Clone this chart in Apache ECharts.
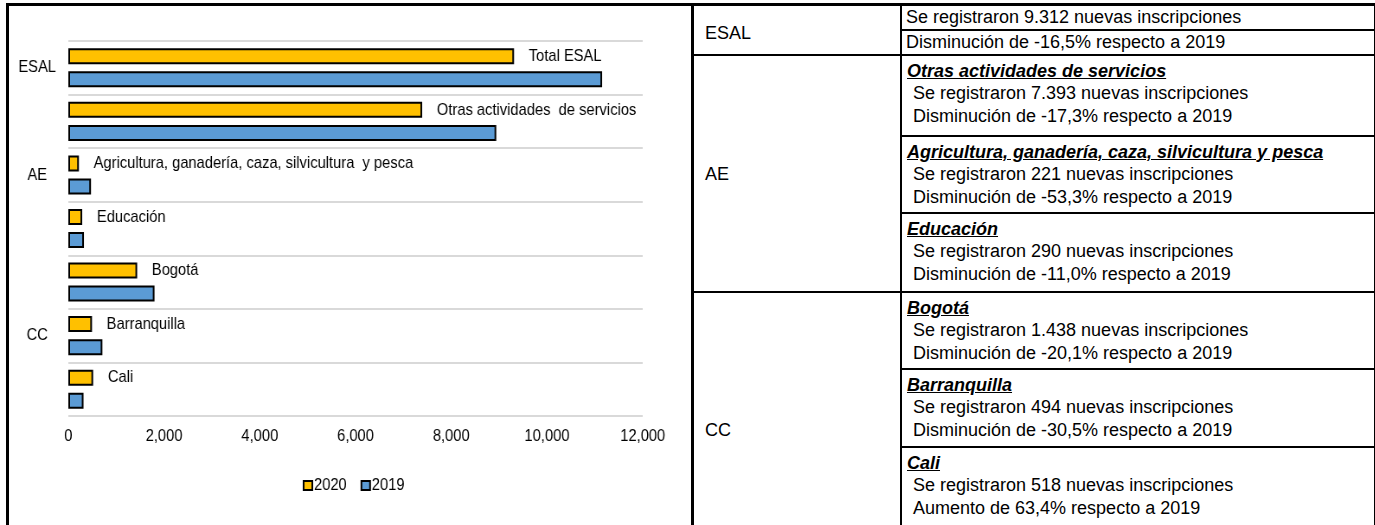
<!DOCTYPE html>
<html>
<head>
<meta charset="utf-8">
<script src="https://cdn.jsdelivr.net/npm/echarts@6/dist/echarts.min.js"></script>
<style>
html, body { margin:0; padding:0; background:#fff; width:1375px; height:525px; overflow:hidden;
  font-family:'Liberation Sans',Arial,sans-serif; color:#000; }
/* the chart in the picture is squeezed horizontally, so draw it wider and scale it back */
#chart { position:absolute; left:0; top:0; width:802px; height:525px; transform:scaleX(0.865); transform-origin:0 0; }
#box { position:absolute; left:6px; top:3px; width:682px; height:600px; border:3px solid #000; border-bottom:none; pointer-events:none; }
#table { position:absolute; left:692px; top:3px; width:680px; height:600px; border:2px solid #000; border-top:3px solid #000; border-bottom:none; background:#fff; }
.hl { position:absolute; height:2px; background:#000; }
.vl { position:absolute; width:2px; background:#000; }
.cell { position:absolute; font-size:18px; line-height:22.6px; white-space:pre; }
.head { font-weight:bold; font-style:italic; text-decoration:underline; }
.body { padding-left:6px; }
</style>
</head>
<body>
<div id="chart"></div>
<div id="box"></div>
<div id="table"></div>
<script>
// chart data
var categories = ['Total ESAL', 'Otras actividades  de servicios', 'Agricultura, ganadería, caza, silvicultura  y pesca',
                  'Educación', 'Bogotá', 'Barranquilla', 'Cali'];
var values2020 = [9312, 7393, 221, 290, 1438, 494, 518];
var values2019 = [11152, 8940, 473, 326, 1800, 711, 317];
var groupNames = ['ESAL', 'AE', 'CC'];
var groupSizes = [1, 3, 3];
var xTicks = [0, 2000, 4000, 6000, 8000, 10000, 12000];

// table data
var tableTitles = ['', 'Otras actividades de servicios', 'Agricultura, ganadería, caza, silvicultura y pesca',
                   'Educación', 'Bogotá', 'Barranquilla', 'Cali'];
var tableCounts = ['9.312', '7.393', '221', '290', '1.438', '494', '518'];
var tableChanges = ['-16,5', '-17,3', '-53,3', '-11,0', '-20,1', '-30,5', '63,4'];

var FONT = "'Liberation Sans',Arial,sans-serif";

var chart = echarts.init(document.getElementById('chart'));

var option = {
    animation: false,
    textStyle: { fontFamily: FONT },
    grid: { left: 79, right: 59, top: 41, bottom: 109, containLabel: false },
    legend: {
        data: ['2020', '2019'],
        left: 345,
        top: 472,
        icon: 'rect',
        itemWidth: 10,
        itemHeight: 9,
        itemGap: 16,
        itemStyle: { borderColor: '#000', borderWidth: 2 },
        textStyle: { fontSize: 17, color: '#000', padding: [0, 0, 0, -3] }
    },
    xAxis: {
        type: 'value',
        min: xTicks[0],
        max: xTicks[xTicks.length - 1],
        interval: 2000,
        axisLine: { show: false },
        axisTick: { show: false },
        splitLine: { show: false },
        axisLabel: {
            margin: 12,
            fontSize: 17,
            color: '#000',
            formatter: function (v) { return v.toLocaleString('en-US'); }
        }
    },
    yAxis: {
        type: 'category',
        data: categories,
        inverse: true,
        axisLine: { show: false },
        axisTick: { show: false },
        axisLabel: { show: false },
        splitLine: { show: true, lineStyle: { color: '#d9d9d9', width: 2 } }
    },
    series: [
        {
            name: '2020',
            type: 'bar',
            data: values2020,
            barWidth: 16,
            barGap: '44%',
            itemStyle: { color: '#FFC000', borderColor: '#000', borderWidth: 2 },
            label: {
                show: true,
                position: 'right',
                distance: 17,
                fontSize: 17,
                color: '#000',
                formatter: function (p) { return categories[p.dataIndex]; }
            }
        },
        {
            name: '2019',
            type: 'bar',
            data: values2019,
            barWidth: 16,
            barGap: '44%',
            itemStyle: { color: '#5B9BD5', borderColor: '#000', borderWidth: 2 }
        }
    ]
};
chart.setOption(option);

// group labels centred on their categories
var graphics = [];
var start = 0;
groupNames.forEach(function (g, i) {
    var a = chart.convertToPixel({ yAxisIndex: 0 }, categories[start]);
    var b = chart.convertToPixel({ yAxisIndex: 0 }, categories[start + groupSizes[i] - 1]);
    graphics.push({
        type: 'text',
        x: 43,
        y: (a + b) / 2,
        style: { text: g, fill: '#000', font: '17px ' + FONT, textAlign: 'center', textVerticalAlign: 'middle' }
    });
    start += groupSizes[i];
});
chart.setOption({ graphic: graphics });

// table on the right
var tbl = document.getElementById('table');
var blockTops = [0, 49, 130, 207, 286, 363, 441, 600];
var groupBlocks = [[0, 1], [1, 4], [4, 7]];
var groupLabelY = [27, 168, 424];
var colX = 206;
var html = '';
html += '<div class="vl" style="left:' + colX + 'px;top:0;height:600px"></div>';
groupBlocks.forEach(function (gb, i) {
    if (i > 0) html += '<div class="hl" style="left:0;width:680px;top:' + (blockTops[gb[0]] - 1) + 'px"></div>';
    html += '<div class="cell" style="left:11px;top:' + (groupLabelY[i] - 11) + 'px">' + groupNames[i] + '</div>';
});
for (var k = 0; k < tableCounts.length; k++) {
    var ty = blockTops[k];
    if (k > 0 && k !== 1 && k !== 4) html += '<div class="hl" style="left:' + colX + 'px;width:' + (680 - colX) + 'px;top:' + (ty - 1) + 'px"></div>';
    var line1 = 'Se registraron ' + tableCounts[k] + ' nuevas inscripciones';
    var pct = tableChanges[k];
    var line2 = (pct.charAt(0) === '-' ? 'Disminución de ' : 'Aumento de ') + pct + '% respecto a 2019';
    if (k === 0) {
        html += '<div class="hl" style="left:' + colX + 'px;width:' + (680 - colX) + 'px;top:23px"></div>';
        html += '<div class="cell" style="left:' + (colX + 6) + 'px;top:0px">' + line1 + '</div>';
        html += '<div class="cell" style="left:' + (colX + 6) + 'px;top:25px">' + line2 + '</div>';
    } else {
        html += '<div class="cell" style="left:' + (colX + 7) + 'px;top:' + (ty + 4.5) + 'px">' +
            '<div class="head">' + tableTitles[k] + '</div>' +
            '<div class="body">' + line1 + '</div>' +
            '<div class="body">' + line2 + '</div></div>';
    }
}
tbl.innerHTML = html;
</script>
</body>
</html>
